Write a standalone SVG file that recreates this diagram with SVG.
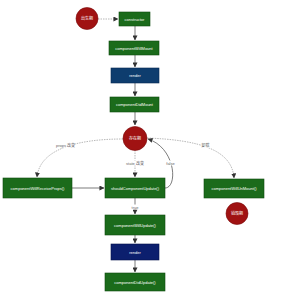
<svg xmlns="http://www.w3.org/2000/svg" width="300" height="300" viewBox="0 0 300 300">
<style>
.g{fill:#1b6b1b;stroke:#0f4a0f;stroke-width:0.6}
.b1{fill:#0e3d6e;stroke:#082a50;stroke-width:0.6}
.b2{fill:#0c1f6e;stroke:#06124a;stroke-width:0.6}
.c{fill:#a01212;stroke:#7a0a0a;stroke-width:0.6}
.t{font-family:"Liberation Sans","Noto Sans CJK SC",sans-serif;font-size:4px;fill:#fff;text-anchor:middle;dominant-baseline:central}
.l{font-family:"Liberation Sans","Noto Sans CJK SC",sans-serif;font-size:4px;fill:#666;text-anchor:middle;dominant-baseline:central}
.s{fill:none;stroke:#444;stroke-width:0.7}
.d{fill:none;stroke:#888;stroke-width:0.6;stroke-dasharray:1.5,1}
.lb{fill:#fff}
</style>
<defs>
<marker id="a" viewBox="0 0 6 6" refX="5.5" refY="3" markerWidth="5" markerHeight="5" orient="auto" markerUnits="userSpaceOnUse"><path d="M0,0L6,3L0,6z" fill="#333"/></marker>
</defs>
<rect width="300" height="300" fill="#fff"/>
<g id="connectors">
<path class="d" d="M98,19H118" marker-end="url(#a)"/>
<path class="s" d="M135,26V40" marker-end="url(#a)"/>
<path class="s" d="M135,55V67" marker-end="url(#a)"/>
<path class="s" d="M135,83V96" marker-end="url(#a)"/>
<path class="s" d="M135,112V125" marker-end="url(#a)"/>
<path class="d" d="M123,139C80,139 40,148 37,177" marker-end="url(#a)"/>
<path class="d" d="M135,150V177" marker-end="url(#a)"/>
<path class="s" d="M72,188H104" marker-end="url(#a)"/>
<path class="s" d="M135,198V214" marker-end="url(#a)"/>
<path class="s" d="M165,188C178,188 176,148 148,139" marker-end="url(#a)"/>
<path class="d" d="M147,138C200,140 232,150 234,178" marker-end="url(#a)"/>
<path class="s" d="M135,235V243" marker-end="url(#a)"/>
<path class="s" d="M135,260V272" marker-end="url(#a)"/>
<rect class="lb" x="57" y="142.5" width="17" height="5"/>
<text class="l" x="65.5" y="145">props 改变</text>
<rect class="lb" x="126" y="160.5" width="18" height="5"/>
<text class="l" x="135" y="163">state 改变</text>
<rect class="lb" x="166" y="160.5" width="9" height="5"/>
<text class="l" x="170.5" y="163">false</text>
<rect class="lb" x="131" y="204.5" width="8" height="5"/>
<text class="l" x="135" y="207">true</text>
<rect class="lb" x="201" y="142.5" width="9" height="5"/>
<text class="l" x="205.5" y="145">卸载</text>
</g>
<g id="birth"><circle class="c" cx="87" cy="18.5" r="11"/><text class="t" x="87" y="18.5">出生期</text></g>
<g id="constructor"><rect class="g" x="119" y="12" width="31" height="14"/><text class="t" x="134.5" y="19">constructor</text></g>
<g id="componentWillMount"><rect class="g" x="109" y="41" width="50" height="14"/><text class="t" x="134" y="48">componentWillMount</text></g>
<g id="render1"><rect class="b1" x="111" y="68" width="48" height="15"/><text class="t" x="135" y="75.5">render</text></g>
<g id="componentDidMount"><rect class="g" x="110" y="97" width="49" height="15"/><text class="t" x="134.5" y="104.5">componentDidMount</text></g>
<g id="exist"><circle class="c" cx="135" cy="138.5" r="12"/><text class="t" x="135" y="138.5">存在期</text></g>
<g id="componentWillReceiveProps"><rect class="g" x="3" y="178" width="69" height="20"/><text class="t" x="37.5" y="188">componentWillReceiveProps()</text></g>
<g id="shouldComponentUpdate"><rect class="g" x="105" y="178" width="60" height="20"/><text class="t" x="135" y="188">shouldComponentUpdate()</text></g>
<g id="componentWillUnMount"><rect class="g" x="204" y="179" width="60" height="19"/><text class="t" x="234" y="188.5">componentWillUnMount()</text></g>
<g id="destroy"><circle class="c" cx="237" cy="213.5" r="11"/><text class="t" x="237" y="213.5">销毁期</text></g>
<g id="componentWillUpdate"><rect class="g" x="105" y="215" width="60" height="20"/><text class="t" x="135" y="225">componentWillUpdate()</text></g>
<g id="render2"><rect class="b2" x="111" y="244" width="48" height="16"/><text class="t" x="135" y="252">render</text></g>
<g id="componentDidUpdate"><rect class="g" x="105" y="273" width="60" height="18"/><text class="t" x="135" y="282">componentDidUpdate()</text></g>
</svg>
